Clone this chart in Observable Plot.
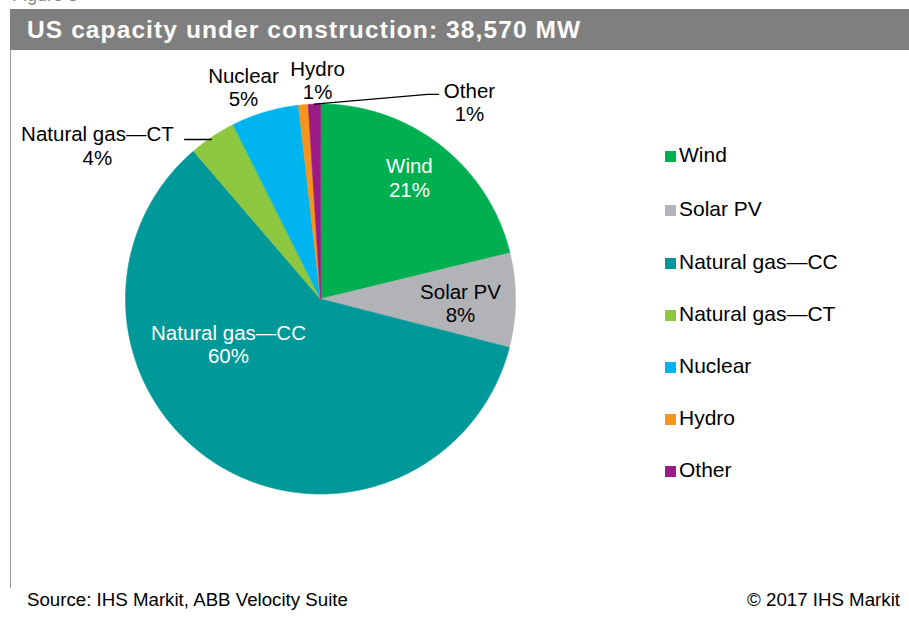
<!DOCTYPE html>
<html><head><meta charset="utf-8">
<script src="https://cdn.jsdelivr.net/npm/d3@7"></script>
<script src="https://cdn.jsdelivr.net/npm/@observablehq/plot@0.6"></script>
<style>
html,body{margin:0;padding:0;background:#fff;}
body{width:909px;height:618px;position:relative;overflow:hidden;font-family:"Liberation Sans",Arial,sans-serif;color:#000;}
#fig{position:absolute;left:12px;top:-15px;font-size:18px;color:#888;}
#title{position:absolute;left:10px;top:9px;width:899px;height:41px;background:#7f7f7f;color:#fff;font-weight:bold;font-size:24.5px;letter-spacing:1.1px;line-height:42px;padding-left:17px;box-sizing:border-box;white-space:nowrap;}
#vline{position:absolute;left:10px;top:50px;width:1px;height:538px;background:#9a9a9a;}
#chart{position:absolute;left:0;top:50px;}
.leg{position:absolute;left:665px;font-size:21px;line-height:24px;white-space:nowrap;}
.leg span.sw{display:inline-block;width:11px;height:11px;margin-right:3px;vertical-align:0px;}
#src{position:absolute;left:27px;top:589px;font-size:18.7px;white-space:nowrap;}
#copy{position:absolute;right:9px;top:589px;font-size:18.7px;white-space:nowrap;}
</style>
</head><body>
<div id="fig">Figure 3</div>
<div id="title">US capacity under construction: 38,570 MW</div>
<div id="vline"></div>
<div id="chart"></div>
<div id="legend"></div>
<div id="src">Source: IHS Markit, ABB Velocity Suite</div>
<div id="copy">© 2017 IHS Markit</div>
<script>
// ---- data ----
const categories = ["Wind", "Solar PV", "Natural gas—CC", "Natural gas—CT", "Nuclear", "Hydro", "Other"];
const shares = [21.2, 7.8, 59.7, 3.9, 5.6, 0.8, 1.0];
const pctLabels = ["21%", "8%", "60%", "4%", "5%", "1%", "1%"];
const colors = ["#00b050", "#b2b3b7", "#009898", "#8dc63f", "#00b5ef", "#f7941d", "#9b1c84"];

// ---- layout (unit-circle coordinates, y up) ----
const SVG_TOP = 50, SVG_H = 530, CX = 320, CY = 298.5, R = 195;
const labelPos = {
  "Wind": [0.456, 0.623, "#fff"],
  "Solar PV": [0.718, -0.023, "#000"],
  "Natural gas—CC": [-0.472, -0.231, "#fff"],
  "Natural gas—CT": [-1.144, 0.787, "#000"],
  "Nuclear": [-0.395, 1.085, "#000"],
  "Hydro": [-0.015, 1.123, "#000"],
  "Other": [0.764, 1.010, "#000"]
};
const leaderElbows = {
  "Natural gas—CT": [[-0.56, 0.818], [-0.697, 0.818]],
  "Other": [[0.549, 1.049], [0.605, 1.049]]
};

const arcs = d3.pie().sort(null).value(d => d)(shares);
const poly = [];
arcs.forEach((a, i) => {
  const cat = categories[i];
  poly.push({cat, x: 0, y: 0});
  const n = Math.max(2, Math.ceil((a.endAngle - a.startAngle) / 0.005));
  for (let k = 0; k <= n; k++) {
    const t = a.startAngle + (a.endAngle - a.startAngle) * k / n;
    poly.push({cat, x: Math.sin(t), y: Math.cos(t)});
  }
  poly.push({cat, x: 0, y: 0});
});

const labels = categories.map((c, i) => ({
  cat: c, x: labelPos[c][0], y: labelPos[c][1], color: labelPos[c][2],
  text: c + "\n" + pctLabels[i]
}));

const leaders = [];
leaderElbows["Natural gas—CT"].forEach(p => leaders.push({id: "ct", x: p[0], y: p[1]}));
{
  const a = arcs[categories.indexOf("Other")];
  const m = (a.startAngle + a.endAngle) / 2;
  leaders.push({id: "other", x: Math.sin(m), y: Math.cos(m)});
  leaderElbows["Other"].forEach(p => leaders.push({id: "other", x: p[0], y: p[1]}));
}

const chart = Plot.plot({
  width: 909,
  height: SVG_H,
  margin: 0,
  style: {fontFamily: '"Liberation Sans", Arial, sans-serif', background: "transparent", overflow: "visible"},
  x: {domain: [-1, 1], range: [CX - R, CX + R], axis: null},
  y: {domain: [-1, 1], range: [CY - SVG_TOP + R, CY - SVG_TOP - R], axis: null},
  color: {domain: categories, range: colors},
  marks: [
    Plot.line(poly, {x: "x", y: "y", z: "cat", fill: "cat", stroke: "cat", strokeWidth: 0.6, curve: "linear"}),
    Plot.line(leaders, {x: "x", y: "y", z: "id", stroke: "#000", strokeWidth: 1.3, curve: "linear"}),
    Plot.text(labels, {x: "x", y: "y", text: "text", fill: d => d.color, fontSize: 20.5, lineHeight: 1.13, textAnchor: "middle"})
  ]
});
document.getElementById("chart").appendChild(chart);

// legend built from the same arrays
const legTop = [156, 210, 263, 315, 367, 419, 471];
const leg = document.getElementById("legend");
categories.forEach((c, i) => {
  const d = document.createElement("div");
  d.className = "leg";
  d.style.top = (legTop[i] - 13) + "px";
  d.innerHTML = `<span class="sw" style="background:${colors[i]}"></span>${c}`;
  leg.appendChild(d);
});
</script>
</body></html>
